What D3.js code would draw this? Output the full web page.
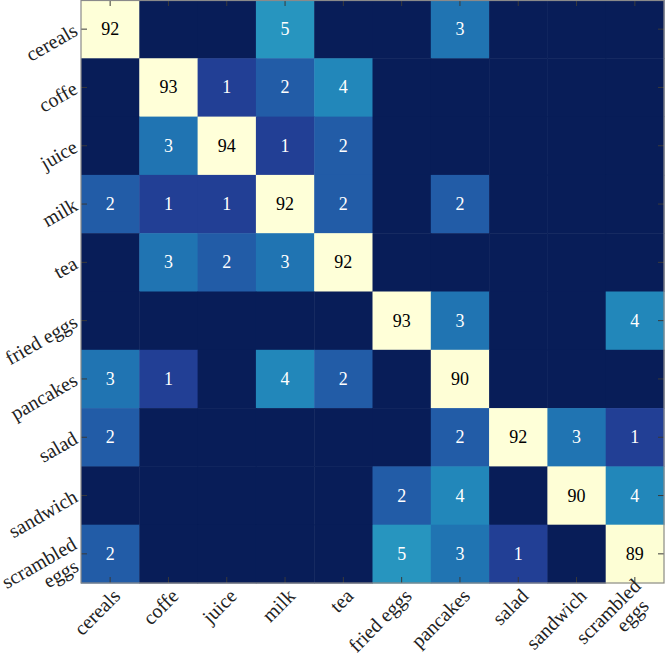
<!DOCTYPE html>
<html><head><meta charset="utf-8">
<script src="https://cdn.jsdelivr.net/npm/d3@7"></script>
<style>
html,body{margin:0;padding:0;background:#fff;}
</style></head>
<body>
<svg id="chart" width="665" height="654" style="font-family:'Times New Roman','Liberation Serif',Tinos,serif"></svg>
<script>
const categories = ["cereals","coffe","juice","milk","tea","fried eggs","pancakes","salad","sandwich","scrambled eggs"];
const labelLines = [["cereals"],["coffe"],["juice"],["milk"],["tea"],["fried eggs"],["pancakes"],["salad"],["sandwich"],["scrambled","eggs"]];
const rowCereals   = [92,0,0,5,0,0,3,0,0,0];
const rowCoffe     = [0,93,1,2,4,0,0,0,0,0];
const rowJuice     = [0,3,94,1,2,0,0,0,0,0];
const rowMilk      = [2,1,1,92,2,0,2,0,0,0];
const rowTea       = [0,3,2,3,92,0,0,0,0,0];
const rowFriedEggs = [0,0,0,0,0,93,3,0,0,4];
const rowPancakes  = [3,1,0,4,2,0,90,0,0,0];
const rowSalad     = [2,0,0,0,0,0,2,92,3,1];
const rowSandwich  = [0,0,0,0,0,2,4,0,90,4];
const rowScrambled = [2,0,0,0,0,5,3,1,0,89];
const matrix = [rowCereals,rowCoffe,rowJuice,rowMilk,rowTea,rowFriedEggs,rowPancakes,rowSalad,rowSandwich,rowScrambled];

const svg = d3.select("#chart");
const FONT = "'Times New Roman', 'Liberation Serif', Tinos, serif";
const mLeft = 81, mRight = 664, mTop = 0, mBottom = 583;
const x = d3.scaleBand().domain(d3.range(10)).range([mLeft, mRight]).padding(0);
const y = d3.scaleBand().domain(d3.range(10)).range([mTop, mBottom]).padding(0);
const maxV = 94;
const colorT = d3.scaleLog().domain([1, maxV + 1]).range([1, 0]);
const color = v => d3.interpolateYlGnBu(colorT(v + 1));

const cells = [];
matrix.forEach((row, i) => row.forEach((v, j) => cells.push({i, j, v})));

svg.append("g").selectAll("rect").data(cells).join("rect")
  .attr("x", d => x(d.j)).attr("y", d => y(d.i))
  .attr("width", x.bandwidth() + 0.5).attr("height", y.bandwidth() + 0.5)
  .attr("fill", d => color(d.v));

svg.selectAll("text.val").data(cells.filter(d => d.v > 0)).join("text")
  .attr("class", "val")
  .attr("x", d => x(d.j) + x.bandwidth() / 2)
  .attr("y", d => y(d.i) + y.bandwidth() / 2 + 6)
  .attr("text-anchor", "middle")
  .attr("font-family", FONT)
  .attr("font-size", 18)
  .attr("fill", d => d.v > 50 ? "#000" : "#fff")
  .text(d => d.v);

// axes with inward ticks (all four sides)
const tickLen = 6;
const axisColor = "#3a3a3a";
const xAxisB = d3.axisBottom(x).tickSize(-tickLen).tickFormat("");
const xAxisT = d3.axisTop(x).tickSize(-tickLen).tickFormat("");
const yAxisL = d3.axisLeft(y).tickSize(-tickLen).tickFormat("");
const yAxisR = d3.axisRight(y).tickSize(-tickLen).tickFormat("");
[[xAxisB, `translate(0,${mBottom})`],[xAxisT, `translate(0,${mTop})`],[yAxisL, `translate(${mLeft},0)`],[yAxisR, `translate(${mRight},0)`]]
.forEach(([ax, tr]) => {
  const g = svg.append("g").attr("transform", tr).call(ax);
  g.select(".domain").remove();
  g.selectAll(".tick line").attr("stroke", axisColor).attr("stroke-width", 1);
});
svg.append("rect").attr("x", mLeft).attr("y", mTop + 0.5).attr("width", mRight - mLeft).attr("height", mBottom - mTop - 0.5)
  .attr("fill", "none").attr("stroke", "#8a8a8a").attr("stroke-width", 1.2);

// build per-line label items (multi-line labels stacked in screen space)
const yItems = [], xItems = [];
labelLines.forEach((lines, d) => {
  lines.forEach((s, k) => {
    const off = k - (lines.length - 1) / 2;
    yItems.push({d, s, dx: off * 2, dy: off * 22});
    xItems.push({d, s, dx: off * 8, dy: off * 20});
  });
});

// y labels rotated 30°
svg.selectAll("text.ylab").data(yItems).join("text")
  .attr("class", "ylab")
  .attr("transform", t => `translate(${mLeft - 5 + t.dx},${y(t.d) + y.bandwidth() / 2 + t.dy}) rotate(-30)`)
  .attr("y", 6)
  .attr("text-anchor", "end").attr("font-family", FONT)
  .attr("font-size", 20).attr("fill", "#222")
  .text(t => t.s);

// x labels rotated 45°
svg.selectAll("text.xlab").data(xItems).join("text")
  .attr("class", "xlab")
  .attr("transform", t => `translate(${x(t.d) + x.bandwidth() / 2 + 7 + t.dx},${mBottom + 10 + t.dy}) rotate(-45)`)
  .attr("y", 6)
  .attr("text-anchor", "end").attr("font-family", FONT)
  .attr("font-size", 20).attr("fill", "#222")
  .text(t => t.s);
</script>
</body></html>
